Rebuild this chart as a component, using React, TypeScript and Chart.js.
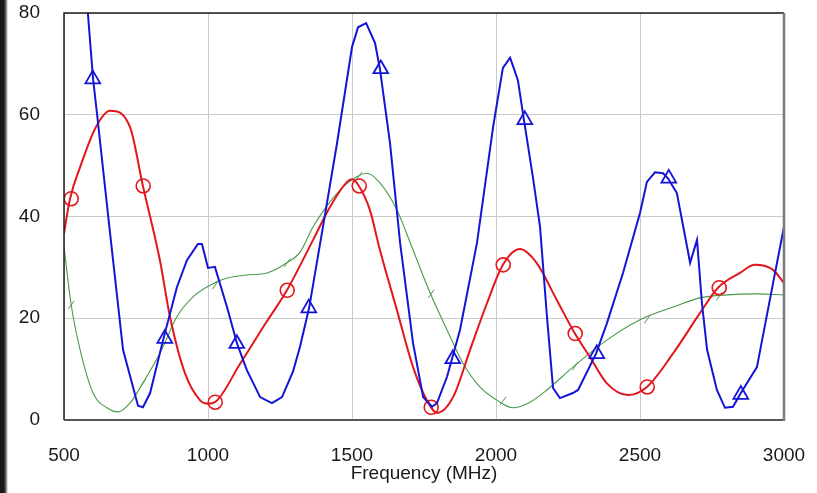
import { useEffect, useRef } from "react";
import { Chart, registerables } from "chart.js";

Chart.register(...registerables);

// X axis / Y axis ticks
const xTicks = [500, 1000, 1500, 2000, 2500, 3000];
const yTicks = [0, 20, 40, 60, 80];
const xTitle = "Frequency (MHz)";

// Red curve (smooth)
const redF = [500, 521, 556, 610, 660, 729, 774, 833, 868, 920, 972, 1000, 1024, 1111, 1200, 1274, 1365, 1424, 1483, 1500, 1524, 1562, 1597, 1656, 1712, 1760, 1795, 1851, 1910, 1969, 2024, 2083, 2142, 2211, 2274, 2326, 2385, 2458, 2524, 2615, 2708, 2771, 2847, 2899, 2962, 3000];
const redV = [36.7, 43.5, 49.7, 57.5, 60.8, 57.6, 46, 31.4, 20.3, 9.2, 3.9, 3.2, 3.5, 11, 19, 25.5, 35.4, 41.9, 46.8, 47.3, 46, 41.3, 33.4, 21.6, 10.4, 3.9, 1.4, 4.5, 13.8, 23, 30.5, 33.6, 30.8, 23.6, 17, 12.4, 7.2, 4.9, 6.5, 13.1, 21, 26, 28.9, 30.5, 29.5, 26.9];
const redMarkF = [525, 775, 1025, 1275, 1525, 1775, 2025, 2275, 2525, 2775];
const redMarkV = [43.5, 46, 3.5, 25.5, 46, 2.5, 30.5, 17, 6.5, 26];

// Blue curve (polyline)
const blueF = [578, 601, 615, 660, 705, 757, 774, 799, 844, 892, 927, 965, 979, 1000, 1024, 1066, 1101, 1135, 1181, 1222, 1257, 1295, 1319, 1351, 1399, 1448, 1500, 1521, 1549, 1580, 1597, 1632, 1667, 1712, 1747, 1778, 1795, 1830, 1847, 1875, 1934, 1990, 2024, 2049, 2076, 2097, 2128, 2153, 2177, 2198, 2222, 2267, 2285, 2347, 2385, 2441, 2500, 2524, 2552, 2580, 2597, 2628, 2674, 2698, 2715, 2733, 2767, 2795, 2823, 2847, 2906, 2962, 3000];
const blueV = [83.5, 67, 60, 36.7, 13.8, 2.8, 2.5, 5.3, 15.7, 26.1, 31.4, 34.6, 34.6, 29.9, 30.1, 22.2, 15, 9.8, 4.5, 3.3, 4.5, 9.5, 14.3, 22, 37.9, 54.4, 73.3, 77.2, 78, 74.1, 69, 54.4, 34.8, 15.1, 4.5, 2.6, 3.3, 8.5, 12, 17.7, 34.8, 57.6, 69.2, 71.2, 66.8, 59, 47.8, 37.9, 20.3, 6.3, 4.3, 5.3, 5.9, 13, 19, 28.9, 40.7, 46.8, 48.7, 48.5, 47.5, 44.6, 30.9, 35.4, 23, 13.8, 5.9, 2.4, 2.6, 5, 10.4, 26.9, 38];
const blueMarkF = [600, 850, 1100, 1350, 1600, 1850, 2100, 2350, 2600, 2850];
const blueMarkV = [67, 16, 15, 22, 69, 12, 59, 13, 47.5, 5];

// Green curve (smooth, thin)
const greenF = [500, 525, 556, 601, 649, 688, 729, 774, 833, 892, 948, 1007, 1066, 1135, 1205, 1274, 1320, 1365, 1458, 1517, 1552, 1597, 1656, 1712, 1771, 1830, 1885, 1944, 2003, 2059, 2118, 2177, 2267, 2385, 2500, 2615, 2708, 2802, 2906, 3000];
const greenV = [34, 22.6, 13.8, 5.3, 2.4, 1.6, 3.3, 7.3, 13.1, 20.3, 24.2, 26.5, 27.9, 28.5, 28.9, 30.9, 33, 38, 45.2, 47.8, 48.5, 46.6, 41.3, 33.4, 25, 17.7, 11.2, 6.5, 3.9, 2.4, 3.5, 5.9, 10.4, 15.7, 19.7, 22.2, 24, 24.6, 24.8, 24.6];
const greenMarkF = [525, 775, 1025, 1275, 1525, 1775, 2025, 2275, 2525, 2775];
const greenMarkV = [22.6, 7.3, 26.5, 30.9, 48, 24.8, 3.8, 10.6, 19.8, 24.3];

const RED = "#e3161c";
const BLUE = "#1414d8";
const GREEN = "#4b9a4b";
const FONT = "'Liberation Sans', Arial, sans-serif";

const pts = (f: number[], v: number[]) => f.map((x, i) => ({ x, y: v[i] }));

const zeroPad = (s: any) => {
  s.paddingTop = 0;
  s.paddingBottom = 0;
  s.paddingLeft = 0;
  s.paddingRight = 0;
};

const framePlugin = {
  id: "frame",
  afterDraw(chart: any) {
    const { ctx, chartArea: a } = chart;
    ctx.save();
    ctx.strokeStyle = "#1c1c1c";
    ctx.lineWidth = 1.5;
    ctx.beginPath();
    ctx.moveTo(a.left, a.bottom);
    ctx.lineTo(a.left, a.top);
    ctx.lineTo(a.right, a.top);
    ctx.stroke();
    ctx.strokeStyle = "#555";
    ctx.lineWidth = 2;
    ctx.beginPath();
    ctx.moveTo(a.left, a.bottom);
    ctx.lineTo(a.right, a.bottom);
    ctx.stroke();
    ctx.strokeStyle = "#7a7a7a";
    ctx.lineWidth = 2.5;
    ctx.beginPath();
    ctx.moveTo(a.right, a.top);
    ctx.lineTo(a.right, a.bottom + 1);
    ctx.stroke();
    ctx.restore();
  },
};

export default function App() {
  const ref = useRef<HTMLCanvasElement | null>(null);
  useEffect(() => {
    if (!ref.current) return;
    const chart = new Chart(ref.current, {
      type: "line",
      data: {
        datasets: [
          { data: pts(blueMarkF, blueMarkV), showLine: false, pointStyle: "triangle", pointRadius: 8.5, borderColor: BLUE, backgroundColor: "rgba(0,0,0,0)", borderWidth: 1.8, order: 1 },
          { data: pts(blueF, blueV), borderColor: BLUE, borderWidth: 2, pointRadius: 0, tension: 0, order: 2 },
          { data: pts(redMarkF, redMarkV), showLine: false, pointStyle: "circle", pointRadius: 7, borderColor: RED, backgroundColor: "rgba(0,0,0,0)", borderWidth: 1.6, order: 3 },
          { data: pts(redF, redV), borderColor: RED, borderWidth: 2, pointRadius: 0, cubicInterpolationMode: "monotone", order: 4 },
          { data: pts(greenMarkF, greenMarkV), showLine: false, pointStyle: "line", pointRadius: 5, rotation: -55, borderColor: GREEN, borderWidth: 1, order: 5 },
          { data: pts(greenF, greenV), borderColor: GREEN, borderWidth: 1.1, pointRadius: 0, cubicInterpolationMode: "monotone", order: 6 },
        ],
      },
      options: {
        animation: false,
        responsive: false,
        maintainAspectRatio: false,
        layout: { padding: { left: 0, right: 33, top: 13, bottom: 0 } },
        plugins: { legend: { display: false }, tooltip: { enabled: false } },
        scales: {
          x: {
            type: "linear",
            min: 500,
            max: 3000,
            afterBuildTicks: (s: any) => { s.ticks = xTicks.map((v) => ({ value: v })); },
            afterFit: (s: any) => { s.height = 73; zeroPad(s); },
            grid: { color: "#cacaca", lineWidth: 1, drawTicks: false },
            border: { display: false },
            ticks: { padding: 24, color: "#1a1a1a", font: { family: FONT, size: 19 }, maxRotation: 0, autoSkip: false, callback: (v: any) => String(v) },
            title: { display: true, text: xTitle, color: "#1a1a1a", font: { family: FONT, size: 19 }, padding: { top: 0, bottom: 8 } },
          },
          y: {
            type: "linear",
            min: 0,
            max: 80,
            afterBuildTicks: (s: any) => { s.ticks = yTicks.map((v) => ({ value: v })); },
            afterFit: (s: any) => { s.width = 64; zeroPad(s); },
            grid: { color: "#cacaca", lineWidth: 1, drawTicks: false },
            border: { display: false },
            ticks: { padding: 24, color: "#1a1a1a", font: { family: FONT, size: 19 }, callback: (v: any) => String(v) },
          },
        },
      },
      plugins: [framePlugin],
    } as any);
    return () => chart.destroy();
  }, []);
  return (
    <div style={{ position: "fixed", left: 0, top: 0, width: 817, height: 493, background: "#fff", overflow: "hidden" }}>
      <div style={{ position: "absolute", left: 0, top: 0, width: 8, height: 493, background: "linear-gradient(to right, #1a1714 0px, #1a1714 4px, #77726c 6px, rgba(255,255,255,0) 8px)" }} />
      <canvas ref={ref} width={817} height={493} style={{ position: "absolute", left: 0, top: 0 }} />
    </div>
  );
}
